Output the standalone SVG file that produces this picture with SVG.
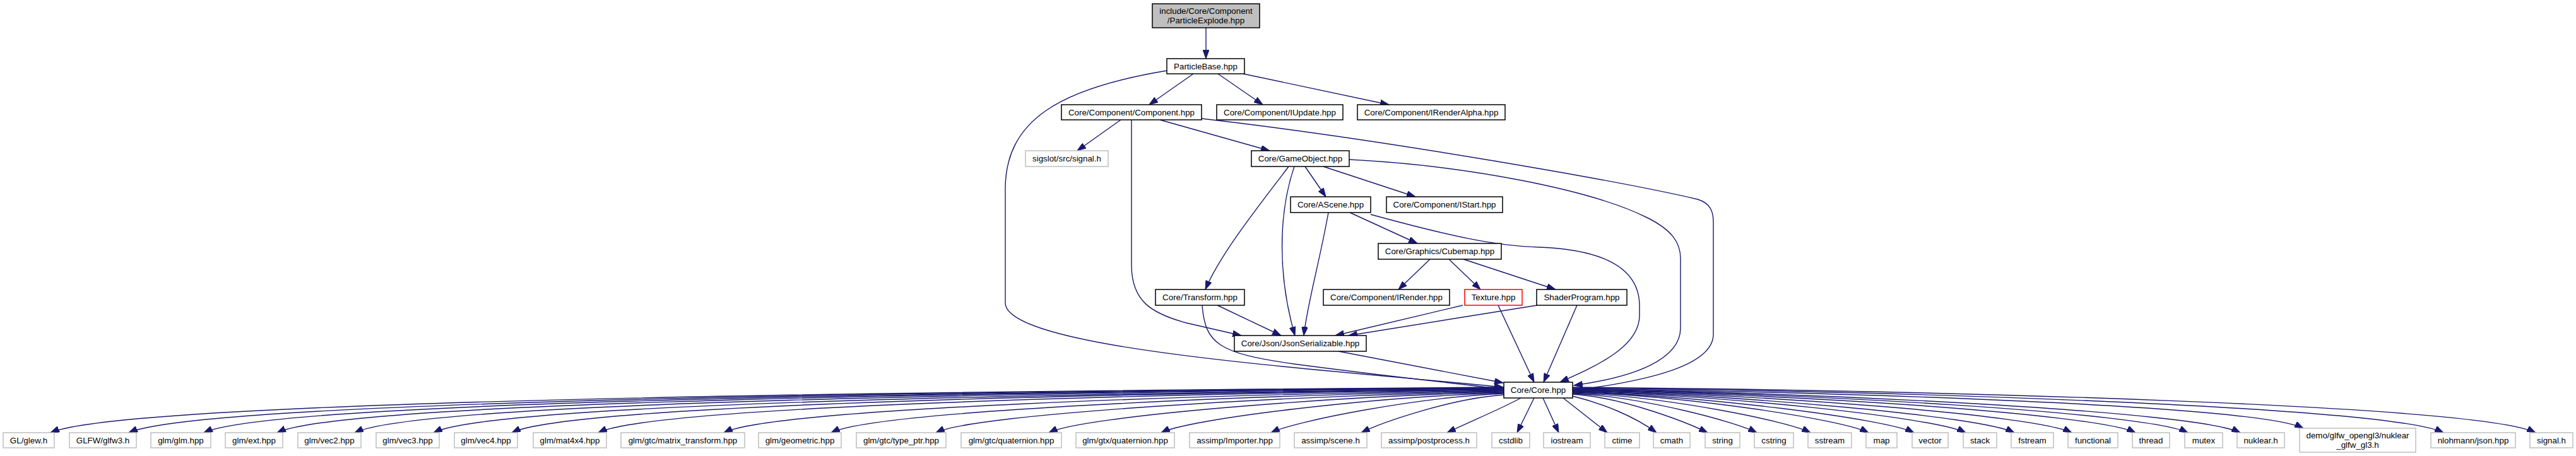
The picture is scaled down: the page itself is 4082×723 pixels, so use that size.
<svg xmlns="http://www.w3.org/2000/svg" width="4082" height="723" viewBox="0 0 4082 723">
<style>
rect{fill:#fff;stroke:#000;stroke-width:1.5}
.ext rect{stroke:#bfbfbf}
.red rect{stroke:#ff0000}
.root rect{fill:#bfbfbf}
text{font-family:"Liberation Sans",Arial,Helvetica,sans-serif;font-size:13.33px;text-anchor:middle;fill:#000}
#edges path{fill:none;stroke:#191970;stroke-width:1.4;marker-end:url(#ah)}
</style>
<defs>
<marker id="ah" markerWidth="15" markerHeight="10" refX="14" refY="5" orient="auto" markerUnits="userSpaceOnUse"><path d="M0,0 L14,5 L0,10 z" fill="#191970" stroke="#191970" stroke-width="1"/></marker>
</defs>
<rect x="0" y="0" width="4082" height="723" style="fill:#fff;stroke:none"/>
<g id="edges">
<path d="M1911,44 L1911,93"/>
<path d="M1891,117 L1821,166"/>
<path d="M1930,117 L2001,166"/>
<path d="M1970,117 L2201,166"/>
<path d="M1849,112 C1680,140 1593,190 1593,300 L1593,480 C1593,555 2100,585 2382,614"/>
<path d="M1776,190 L1707,239"/>
<path d="M1838,190 L2012,239"/>
<path d="M1793,190 L1793,420 C1793,478 1825,497 1880,512 L1967,532"/>
<path d="M1904,188 C2200,222 2580,290 2690,316 C2710,322 2715,335 2715,352 L2715,530 C2715,580 2610,604 2494,619"/>
<path d="M2068,264 L2101,312"/>
<path d="M2097,264 L2243,312"/>
<path d="M2042,264 C2000,320 1935,400 1910,459"/>
<path d="M2051,264 C2025,340 2025,440 2052,532"/>
<path d="M2138,253 C2320,262 2520,300 2610,345 C2650,365 2663,385 2663,410 L2663,520 C2663,570 2590,598 2494,611"/>
<path d="M2139,337 L2246,386"/>
<path d="M2105,337 C2090,420 2072,480 2066,532"/>
<path d="M2172,340 C2300,375 2370,390 2440,392 C2540,396 2598,425 2598,485 L2598,500 C2598,550 2530,580 2472,606"/>
<path d="M2266,411 L2216,459"/>
<path d="M2296,411 L2346,459"/>
<path d="M2319,411 L2465,459"/>
<path d="M1929,484 L2030,532"/>
<path d="M1905,484 C1910,545 1930,560 2050,577 C2200,597 2300,607 2381,617"/>
<path d="M2318,484 L2116,532"/>
<path d="M2374,484 L2431,606"/>
<path d="M2436,484 L2137,532"/>
<path d="M2499,484 L2446,606"/>
<path d="M2121,557 L2382,607"/>
<path d="M2383,614 C1508,620 204,633 80,686"/>
<path d="M2383,614.5 C1555,620 322,634 204,686"/>
<path d="M2383,615 C1600,621 436,634 323,686"/>
<path d="M2383,615.5 C1644,621 546,635 439,686"/>
<path d="M2383,616 C1691,622 664,636 562,686"/>
<path d="M2383,617 C1738,623 783,638 687,686"/>
<path d="M2383,617.5 C1786,623 902,641 811,686"/>
<path d="M2383,618 C1838,624 1033,644 948,686"/>
<path d="M2383,619 C1913,625 1223,648 1147,686"/>
<path d="M2383,620 C1978,626 1385,652 1317,686"/>
<path d="M2383,621 C2041,627 1544,656 1483,686"/>
<path d="M2383,622 C2109,628 1714,660 1662,686"/>
<path d="M2383,623 C2177,629 1884,664 1840,686"/>
<path d="M2383,624 C2243,630 2051,668 2014,686"/>
<path d="M2383,626 C2297,632 2187,671 2157,686"/>
<path d="M2410,631 C2375,650 2330,668 2293,686"/>
<path d="M2431,631 L2404,686"/>
<path d="M2445,631 L2470,686"/>
<path d="M2477,631 L2547,686"/>
<path d="M2492,628 C2540,640 2590,660 2625,686"/>
<path d="M2492,625 C2573,630 2676,671 2706,686"/>
<path d="M2492,624 C2603,629 2751,669 2784,686"/>
<path d="M2492,623 C2635,628 2832,667 2869,686"/>
<path d="M2492,622 C2670,627 2920,665 2961,686"/>
<path d="M2492,621.5 C2698,627 2989,664 3033,686"/>
<path d="M2492,621 C2729,626 3067,662 3115,686"/>
<path d="M2492,620 C2758,626 3140,660 3192,686"/>
<path d="M2492,619.5 C2793,625 3227,658 3283,686"/>
<path d="M2492,618.5 C2831,624 3324,656 3384,686"/>
<path d="M2492,618 C2862,623 3403,654 3467,686"/>
<path d="M2492,617 C2894,623 3482,652 3550,686"/>
<path d="M2492,616 C2932,622 3578,643 3650,679"/>
<path d="M2492,615 C3016,620 3788,645 3872,686"/>
<path d="M2492,614 C3072,619 3929,642 4018,686"/>
</g>
<g id="n_root" class="root"><rect x="1826" y="6" width="170" height="38"/><text x="1911" y="21.5">include/Core/Component</text><text x="1911" y="36.5">/ParticleExplode.hpp</text></g>
<g id="n_particlebase"><rect x="1849" y="93" width="123" height="24"/><text x="1910.5" y="109.5">ParticleBase.hpp</text></g>
<g id="n_component"><rect x="1682" y="166" width="222" height="24"/><text x="1793" y="182.5">Core/Component/Component.hpp</text></g>
<g id="n_iupdate"><rect x="1928" y="166" width="200" height="24"/><text x="2028" y="182.5">Core/Component/IUpdate.hpp</text></g>
<g id="n_irenderalpha"><rect x="2151" y="166" width="234" height="24"/><text x="2268" y="182.5">Core/Component/IRenderAlpha.hpp</text></g>
<g id="n_sigslot" class="ext"><rect x="1625" y="239" width="131" height="25"/><text x="1690.5" y="256">sigslot/src/signal.h</text></g>
<g id="n_gameobject"><rect x="1983" y="239" width="155" height="25"/><text x="2060.5" y="256">Core/GameObject.hpp</text></g>
<g id="n_ascene"><rect x="2045" y="312" width="127" height="25"/><text x="2108.5" y="329">Core/AScene.hpp</text></g>
<g id="n_istart"><rect x="2197" y="312" width="184" height="25"/><text x="2289" y="329">Core/Component/IStart.hpp</text></g>
<g id="n_cubemap"><rect x="2184" y="386" width="195" height="25"/><text x="2281.5" y="403">Core/Graphics/Cubemap.hpp</text></g>
<g id="n_transform"><rect x="1831" y="459" width="141" height="25"/><text x="1901.5" y="476">Core/Transform.hpp</text></g>
<g id="n_irender"><rect x="2097" y="459" width="200" height="25"/><text x="2197" y="476">Core/Component/IRender.hpp</text></g>
<g id="n_texture" class="red"><rect x="2321" y="459" width="91" height="25"/><text x="2366.5" y="476">Texture.hpp</text></g>
<g id="n_shaderprogram"><rect x="2435" y="459" width="143" height="25"/><text x="2506.5" y="476">ShaderProgram.hpp</text></g>
<g id="n_jsonserializable"><rect x="1956" y="532" width="209" height="25"/><text x="2060.5" y="549">Core/Json/JsonSerializable.hpp</text></g>
<g id="n_core"><rect x="2383" y="606" width="109" height="25"/><text x="2437.5" y="623">Core/Core.hpp</text></g>
<g id="n_glew" class="ext"><rect x="5" y="686" width="81" height="24"/><text x="45.5" y="702.5">GL/glew.h</text></g>
<g id="n_glfw3" class="ext"><rect x="110" y="686" width="106" height="24"/><text x="163" y="702.5">GLFW/glfw3.h</text></g>
<g id="n_glm" class="ext"><rect x="239" y="686" width="95" height="24"/><text x="286.5" y="702.5">glm/glm.hpp</text></g>
<g id="n_ext" class="ext"><rect x="357" y="686" width="91" height="24"/><text x="402.5" y="702.5">glm/ext.hpp</text></g>
<g id="n_vec2" class="ext"><rect x="472" y="686" width="100" height="24"/><text x="522" y="702.5">glm/vec2.hpp</text></g>
<g id="n_vec3" class="ext"><rect x="596" y="686" width="100" height="24"/><text x="646" y="702.5">glm/vec3.hpp</text></g>
<g id="n_vec4" class="ext"><rect x="720" y="686" width="100" height="24"/><text x="770" y="702.5">glm/vec4.hpp</text></g>
<g id="n_mat4x4" class="ext"><rect x="845" y="686" width="116" height="24"/><text x="903" y="702.5">glm/mat4x4.hpp</text></g>
<g id="n_matrix_transform" class="ext"><rect x="984" y="686" width="196" height="24"/><text x="1082" y="702.5">glm/gtc/matrix_transform.hpp</text></g>
<g id="n_geometric" class="ext"><rect x="1202" y="686" width="131" height="24"/><text x="1267.5" y="702.5">glm/geometric.hpp</text></g>
<g id="n_type_ptr" class="ext"><rect x="1357" y="686" width="142" height="24"/><text x="1428" y="702.5">glm/gtc/type_ptr.hpp</text></g>
<g id="n_gtc_quaternion" class="ext"><rect x="1523" y="686" width="159" height="24"/><text x="1602.5" y="702.5">glm/gtc/quaternion.hpp</text></g>
<g id="n_gtx_quaternion" class="ext"><rect x="1705" y="686" width="156" height="24"/><text x="1783" y="702.5">glm/gtx/quaternion.hpp</text></g>
<g id="n_importer" class="ext"><rect x="1885" y="686" width="143" height="24"/><text x="1956.5" y="702.5">assimp/Importer.hpp</text></g>
<g id="n_scene" class="ext"><rect x="2051" y="686" width="115" height="24"/><text x="2108.5" y="702.5">assimp/scene.h</text></g>
<g id="n_postprocess" class="ext"><rect x="2189" y="686" width="151" height="24"/><text x="2264.5" y="702.5">assimp/postprocess.h</text></g>
<g id="n_cstdlib" class="ext"><rect x="2364" y="686" width="60" height="24"/><text x="2394" y="702.5">cstdlib</text></g>
<g id="n_iostream" class="ext"><rect x="2446" y="686" width="74" height="24"/><text x="2483" y="702.5">iostream</text></g>
<g id="n_ctime" class="ext"><rect x="2543" y="686" width="55" height="24"/><text x="2570.5" y="702.5">ctime</text></g>
<g id="n_cmath" class="ext"><rect x="2620" y="686" width="58" height="24"/><text x="2649" y="702.5">cmath</text></g>
<g id="n_string" class="ext"><rect x="2702" y="686" width="55" height="24"/><text x="2729.5" y="702.5">string</text></g>
<g id="n_cstring" class="ext"><rect x="2780" y="686" width="62" height="24"/><text x="2811" y="702.5">cstring</text></g>
<g id="n_sstream" class="ext"><rect x="2865" y="686" width="69" height="24"/><text x="2899.5" y="702.5">sstream</text></g>
<g id="n_map" class="ext"><rect x="2957" y="686" width="49" height="24"/><text x="2981.5" y="702.5">map</text></g>
<g id="n_vector" class="ext"><rect x="3030" y="686" width="57" height="24"/><text x="3058.5" y="702.5">vector</text></g>
<g id="n_stack" class="ext"><rect x="3111" y="686" width="53" height="24"/><text x="3137.5" y="702.5">stack</text></g>
<g id="n_fstream" class="ext"><rect x="3187" y="686" width="67" height="24"/><text x="3220.5" y="702.5">fstream</text></g>
<g id="n_functional" class="ext"><rect x="3277" y="686" width="79" height="24"/><text x="3316.5" y="702.5">functional</text></g>
<g id="n_thread" class="ext"><rect x="3379" y="686" width="59" height="24"/><text x="3408.5" y="702.5">thread</text></g>
<g id="n_mutex" class="ext"><rect x="3462" y="686" width="60" height="24"/><text x="3492" y="702.5">mutex</text></g>
<g id="n_nuklear" class="ext"><rect x="3545" y="686" width="75" height="24"/><text x="3582.5" y="702.5">nuklear.h</text></g>
<g id="n_nuklear_glfw_gl3" class="ext"><rect x="3644" y="679" width="184" height="38"/><text x="3736" y="694.5">demo/glfw_opengl3/nuklear</text><text x="3736" y="709.5">_glfw_gl3.h</text></g>
<g id="n_json" class="ext"><rect x="3852" y="686" width="134" height="24"/><text x="3919" y="702.5">nlohmann/json.hpp</text></g>
<g id="n_signal" class="ext"><rect x="4009" y="686" width="68" height="24"/><text x="4043" y="702.5">signal.h</text></g>
</svg>
